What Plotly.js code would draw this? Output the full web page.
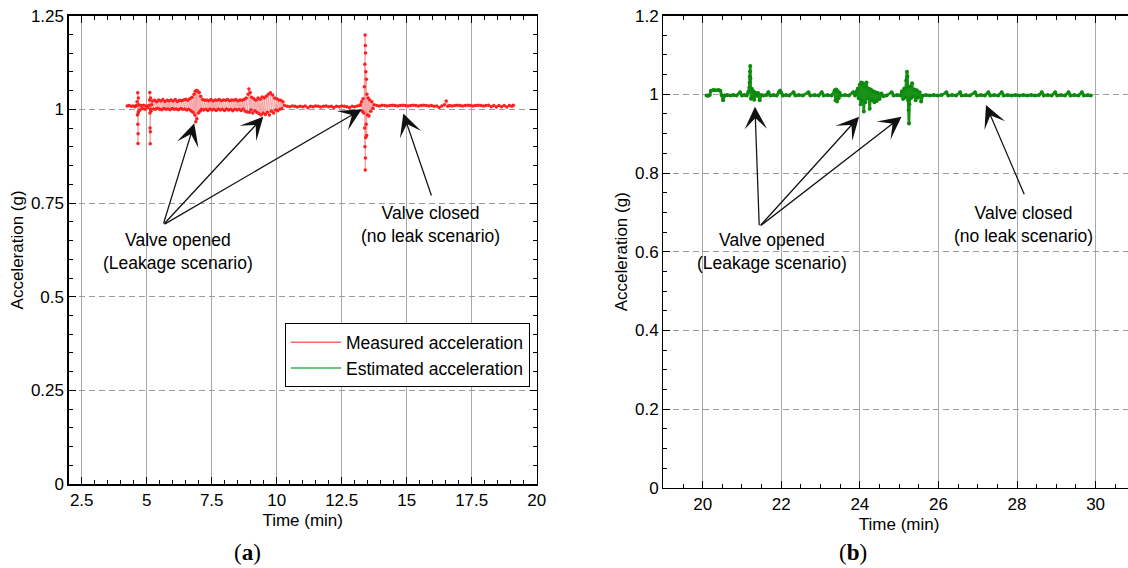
<!DOCTYPE html>
<html><head><meta charset="utf-8">
<script src="https://cdn.plot.ly/plotly-3.0.1.min.js"></script>
<style>html,body{margin:0;padding:0;overflow:hidden;background:#fff}#chart{width:1140px;height:568px}</style>
</head><body><div id="chart"></div>
<script>
// ---- data (time in min, acceleration in g) ----
const measured = [
[4.25,1.009],[4.32,1.010],[4.40,1.008],[4.48,1.009],[4.55,1.007],[4.60,1.010],
[4.63,1.020],[4.645,0.985],[4.655,1.044],[4.66,0.960],[4.665,0.909],[4.67,0.935],[4.675,0.990],[4.68,1.030],[4.69,0.995],[4.70,1.012],
[4.74,0.998],[4.78,1.010],[4.83,1.002],[4.88,1.011],[4.93,1.000],[4.98,1.009],[5.03,1.004],[5.08,1.010],
[5.11,1.025],[5.12,1.045],[5.125,0.990],[5.13,0.950],[5.135,0.908],[5.14,0.940],[5.145,1.000],[5.15,1.030],[5.16,0.995],[5.19,1.012],
[5.22,1.022],[5.26,1.001],[5.30,1.024],[5.34,1.000],[5.38,1.020],[5.42,1.003],[5.46,1.025],[5.50,1.000],[5.54,1.022],[5.58,0.999],
[5.62,1.026],[5.66,1.002],[5.70,1.021],[5.74,1.000],[5.78,1.024],[5.82,1.001],[5.86,1.023],[5.90,0.999],[5.94,1.025],[5.98,1.002],
[6.02,1.022],[6.06,1.000],[6.10,1.026],[6.14,1.001],[6.18,1.021],[6.22,0.999],[6.26,1.024],[6.30,1.002],[6.34,1.023],[6.38,1.000],
[6.42,1.025],[6.46,1.001],[6.50,1.027],[6.54,0.998],[6.58,1.024],[6.62,1.000],[6.66,1.028],[6.70,0.996],
[6.74,1.032],[6.78,0.992],[6.82,1.040],[6.85,0.985],[6.87,1.048],[6.89,0.967],[6.91,1.050],[6.93,0.975],[6.96,1.049],[6.99,0.990],
[7.02,1.045],[7.05,0.995],[7.08,1.035],[7.11,1.000],
[7.15,1.026],[7.19,0.998],[7.23,1.024],[7.27,1.000],[7.31,1.025],[7.35,0.997],[7.39,1.023],[7.43,1.001],[7.47,1.026],[7.51,0.998],
[7.55,1.022],[7.59,1.000],[7.63,1.025],[7.67,0.997],[7.71,1.024],[7.75,1.001],[7.79,1.026],[7.83,0.998],[7.87,1.023],[7.91,1.000],
[7.95,1.025],[7.99,0.997],[8.03,1.024],[8.07,1.001],[8.11,1.026],[8.15,0.998],[8.19,1.023],[8.23,1.000],[8.27,1.025],[8.31,0.996],
[8.35,1.024],[8.39,1.000],[8.43,1.026],[8.47,0.998],[8.51,1.022],[8.55,1.000],[8.59,1.025],[8.63,0.997],[8.67,1.024],[8.71,1.001],
[8.75,1.027],[8.79,0.995],[8.83,1.030],[8.87,0.993],
[8.90,1.040],[8.93,1.054],[8.95,0.992],[8.98,1.045],[9.01,0.998],[9.04,1.032],[9.08,0.990],[9.12,1.028],[9.16,0.996],[9.20,1.024],
[9.24,0.992],[9.28,1.030],[9.32,0.988],[9.36,1.027],[9.40,0.985],[9.44,1.033],[9.48,0.990],[9.52,1.030],[9.56,0.986],[9.60,1.035],
[9.64,0.992],[9.68,1.040],[9.72,0.985],[9.76,1.044],[9.80,0.995],[9.84,1.038],[9.88,0.990],[9.92,1.030],[9.96,0.998],[10.00,1.028],
[10.04,0.996],[10.08,1.025],[10.12,1.000],[10.16,1.024],[10.20,1.002],[10.24,1.020],
[10.30,1.010],[10.40,1.008],[10.50,1.007],[10.60,1.009],[10.70,1.008],[10.80,1.006],[10.90,1.008],[11.00,1.007],[11.10,1.009],[11.20,1.004],
[11.30,1.008],[11.40,1.007],[11.50,1.009],[11.60,1.008],[11.70,1.006],[11.80,1.008],[11.90,1.009],[12.00,1.007],[12.10,1.008],[12.20,1.005],
[12.30,1.008],[12.40,1.007],[12.50,1.009],[12.60,1.008],[12.70,1.007],[12.80,1.004],[12.90,1.008],[13.00,1.007],[13.10,1.009],[13.20,1.010],
[13.22,1.012],[13.26,1.020],[13.29,0.995],[13.32,1.028],[13.35,0.990],[13.37,1.060],[13.38,0.950],[13.39,1.120],[13.395,0.900],[13.40,1.198],
[13.405,0.838],[13.41,1.170],[13.415,0.870],[13.42,1.150],[13.425,0.925],[13.43,1.100],[13.44,0.960],[13.45,1.080],[13.46,0.930],[13.47,1.040],
[13.49,0.985],[13.52,1.030],[13.55,0.982],[13.58,1.025],[13.62,0.995],[13.66,1.020],[13.70,1.003],[13.75,1.012],
[13.85,1.010],[13.95,1.009],[14.05,1.011],[14.15,1.010],[14.25,1.009],[14.35,1.010],[14.45,1.011],[14.55,1.010],[14.65,1.009],[14.75,1.010],
[14.85,1.011],[14.95,1.010],[15.05,1.009],[15.15,1.010],[15.25,1.011],[15.35,1.010],[15.45,1.009],[15.55,1.010],[15.65,1.011],[15.75,1.010],
[15.85,1.009],[15.95,1.010],[16.05,1.008],[16.15,1.009],[16.25,1.005],[16.35,1.009],[16.45,1.012],[16.52,1.022],[16.58,1.008],[16.65,1.010],
[16.75,1.009],[16.85,1.010],[16.95,1.011],[17.05,1.010],[17.15,1.009],[17.25,1.010],[17.35,1.011],[17.45,1.010],[17.55,1.009],[17.65,1.010],
[17.75,1.011],[17.85,1.010],[17.95,1.009],[18.05,1.010],[18.15,1.011],[18.25,1.007],[18.35,1.010],[18.45,1.006],[18.55,1.010],[18.65,1.007],
[18.75,1.010],[18.85,1.006],[18.95,1.010],[19.05,1.008],[19.10,1.011]
];
const estimated = [
[20.10,0.997],[20.14,0.996],[20.18,0.998],[20.21,1.009],[20.27,1.011],[20.33,1.010],[20.40,1.011],[20.45,1.009],[20.48,0.998],[20.52,0.985],
[20.56,0.997],[20.62,0.998],[20.70,0.997],[20.78,0.998],[20.86,0.997],[20.95,1.005],[21.00,0.997],[21.06,0.998],[21.12,0.997],[21.16,1.006],
[21.19,1.018],[21.195,1.030],[21.20,1.045],[21.205,1.058],[21.21,1.072],[21.215,1.040],[21.22,1.012],[21.23,0.989],[21.25,1.014],[21.27,0.995],
[21.29,1.008],[21.31,0.986],[21.34,1.004],[21.37,0.996],[21.41,1.003],[21.45,0.985],[21.49,0.998],[21.55,0.997],[21.62,0.998],[21.67,1.005],
[21.72,0.997],[21.80,0.998],[21.88,0.997],[21.94,1.006],[21.97,1.009],[22.00,1.004],[22.04,0.997],[22.12,0.998],[22.20,0.997],[22.31,1.005],
[22.36,0.997],[22.45,0.998],[22.55,0.997],[22.69,1.005],[22.74,0.997],[22.85,0.998],[22.95,0.997],[23.03,1.005],[23.08,0.997],[23.18,0.998],
[23.28,0.997],[23.36,1.010],[23.38,0.985],[23.40,1.012],[23.42,0.982],[23.44,1.008],[23.46,0.990],[23.48,1.004],[23.52,0.997],[23.62,0.998],
[23.72,0.997],[23.83,1.005],[23.88,0.997],[23.92,1.008],[23.95,1.015],[23.97,0.990],[24.00,1.025],[24.02,0.975],[24.04,1.030],[24.06,0.985],
[24.08,1.028],[24.10,0.956],[24.12,1.020],[24.14,0.980],[24.17,1.030],[24.20,0.990],[24.22,1.015],[24.25,0.963],[24.28,1.012],[24.31,0.985],
[24.34,1.008],[24.37,0.980],[24.40,1.005],[24.43,0.983],[24.46,1.003],[24.50,0.988],[24.55,1.002],[24.60,0.995],[24.68,0.997],[24.81,1.005],
[24.86,0.997],[24.95,0.998],[25.03,0.997],[25.07,1.008],[25.10,0.988],[25.13,1.015],[25.16,0.992],[25.18,1.035],[25.20,1.057],[25.21,1.045],
[25.22,1.020],[25.23,0.985],[25.24,0.960],[25.25,0.926],[25.26,0.975],[25.28,1.020],[25.30,0.990],[25.33,1.028],[25.36,0.995],[25.39,1.012],
[25.42,0.985],[25.45,1.010],[25.48,0.992],[25.52,1.005],[25.56,0.982],[25.60,0.997],[25.68,0.998],[25.78,0.997],[25.88,0.998],[25.98,0.997],
[26.08,0.998],[26.20,1.005],[26.25,0.997],[26.35,0.998],[26.45,0.997],[26.55,1.005],[26.59,0.997],[26.70,0.998],[26.80,0.997],[26.93,1.005],
[26.98,0.997],[27.08,0.998],[27.18,0.997],[27.27,1.005],[27.32,0.997],[27.42,0.998],[27.52,0.997],[27.61,1.005],[27.66,0.997],[27.76,0.998],
[27.86,0.997],[27.96,0.998],[28.06,0.997],[28.16,0.998],[28.26,0.997],[28.36,0.998],[28.46,0.997],[28.56,0.998],[28.63,1.005],[28.68,0.997],
[28.78,0.998],[28.88,0.997],[28.97,1.005],[29.02,0.997],[29.12,0.998],[29.22,0.997],[29.31,1.005],[29.36,0.997],[29.46,0.998],[29.56,0.997],
[29.65,1.005],[29.70,0.997],[29.80,0.998],[29.88,0.997]
];
const leftTimeTicks = [2.5, 5, 7.5, 10, 12.5, 15, 17.5, 20];
const leftTimeLabels = ['2.5','5','7.5','10','12.5','15','17.5','20'];
const leftAccTicks = [0, 0.25, 0.5, 0.75, 1, 1.25];
const leftAccLabels = ['0','0.25','0.5','0.75','1','1.25'];
const rightTimeTicks = [20, 22, 24, 26, 28, 30];
const rightAccTicks = [0, 0.2, 0.4, 0.6, 0.8, 1, 1.2];
const rightAccLabels = ['0','0.2','0.4','0.6','0.8','1','1.2'];
const seriesNames = ['Measured acceleration', 'Estimated acceleration'];
const panelLabels = ['a', 'b'];

// ---- drawing ----
const W = 1140, H = 568;
const FONT = '"Liberation Sans", Arial, Helvetica, sans-serif';
const traces = [
  {x: measured.map(p=>p[0]), y: measured.map(p=>p[1]), xaxis:'x', yaxis:'y', type:'scatter', mode:'lines+markers',
   line:{color:'#f5a3a3', width:1}, marker:{color:'#ff1f1f', size:3.5}, showlegend:false, hoverinfo:'skip'},
  {x: estimated.map(p=>p[0]), y: estimated.map(p=>p[1]), xaxis:'x2', yaxis:'y2', type:'scatter', mode:'lines+markers',
   line:{color:'#1a921a', width:2.8}, marker:{color:'#0d8a0d', size:4}, showlegend:false, hoverinfo:'skip'},
  {x:[null], y:[null], xaxis:'x', yaxis:'y', type:'scatter', mode:'lines', name: seriesNames[0], line:{color:'#ff6666', width:1.5}},
  {x:[null], y:[null], xaxis:'x', yaxis:'y', type:'scatter', mode:'lines', name: seriesNames[1], line:{color:'#33b050', width:1.5}}
];

function xAxis(domain, range, tickvals, ticktext, titleText){
  return {domain, range, tickvals, ticktext, ticks:'inside', ticklen:7, tickwidth:1, tickcolor:'#000',
    showline:true, linecolor:'#000', linewidth:1.3, mirror:'ticks', zeroline:false,
    showgrid:true, gridcolor:'#a9a9a9', gridwidth:1,
    minor:{dtick:0.5, tick0:0, ticks:'inside', ticklen:4, tickcolor:'#000', showgrid:false},
    tickfont:{family:FONT, size:17, color:'#000'},
    title:{text:titleText, font:{family:FONT, size:17, color:'#000'}, standoff:5}, automargin:false, fixedrange:true};
}
function yAxis(domain, range, tickvals, ticktext, anchor){
  return {domain, range, tickvals, ticktext, anchor, ticks:'inside', ticklen:7, tickwidth:1, tickcolor:'#000',
    showline:true, linecolor:'#000', linewidth:1.3, mirror:'ticks', zeroline:false,
    showgrid:true, gridcolor:'#9c9c9c', gridwidth:1, griddash:'6px,4px',
    minor:{dtick:0.05, tick0:0, ticks:'inside', ticklen:4, tickcolor:'#000', showgrid:false},
    tickfont:{family:FONT, size:17, color:'#000'},
    title:{text:'Acceleration (g)', font:{family:FONT, size:17, color:'#000'}, standoff:3}, automargin:false, fixedrange:true};
}

const arrow = (xr, yr, x, y, ax, ay) => ({xref:xr, yref:yr, axref:xr, ayref:yr, x, y, ax, ay, text:'', showarrow:true,
  arrowhead:3, arrowsize:3, arrowwidth:1.25, arrowcolor:'#111', standoff:0, startstandoff:0});
const label = (xr, yr, x, y, text) => ({xref:xr, yref:yr, x, y, text, showarrow:false,
  font:{family:FONT, size:17.5, color:'#000'}, align:'center', xanchor:'center', yanchor:'middle'});

const layout = {
  width: W, height: H, margin:{l:0, r:0, t:0, b:0}, paper_bgcolor:'#fff', plot_bgcolor:'#fff',
  xaxis: xAxis([68.7/W, 536.7/W], [2, 20], leftTimeTicks, leftTimeLabels, 'Time (min)'),
  yaxis: yAxis([(H-484.2)/H, (H-15.6)/H], [0, 1.25], leftAccTicks, leftAccLabels, 'x'),
  xaxis2: Object.assign(xAxis([663.4/W, 1134.9/W], [19, 31], rightTimeTicks, rightTimeTicks.map(String), 'Time (min)'), {anchor:'y2'}),
  yaxis2: yAxis([(H-487.8)/H, (H-15.6)/H], [0, 1.2], rightAccTicks, rightAccLabels, 'x2'),
  showlegend:true,
  legend:{x:530/W, y:(H-323.3)/H, xanchor:'right', yanchor:'top', bgcolor:'#fff', bordercolor:'#000', borderwidth:1,
    font:{family:FONT, size:17.5, color:'#000'}, tracegroupgap:0, itemwidth:50},
  annotations:[
    arrow('x','y', 6.83, 0.9627, 5.63, 0.6914),
    arrow('x','y', 9.485, 0.980, 5.63, 0.6914),
    arrow('x','y', 13.27, 1.0, 5.63, 0.6914),
    arrow('x','y', 14.87, 0.989, 15.97, 0.766),
    label('x','y', 6.21, 0.622, 'Valve opened<br>(Leakage scenario)'),
    label('x','y', 15.9, 0.694, 'Valve closed<br>(no leak scenario)'),
    arrow('x2','y2', 21.33, 0.9685, 21.44, 0.6635),
    arrow('x2','y2', 23.98, 0.943, 21.44, 0.6635),
    arrow('x2','y2', 25.06, 0.943, 21.44, 0.6635),
    arrow('x2','y2', 27.21, 0.973, 28.2, 0.742),
    label('x2','y2', 21.76, 0.600, 'Valve opened<br>(Leakage scenario)'),
    label('x2','y2', 28.17, 0.668, 'Valve closed<br>(no leak scenario)'),
    {xref:'paper', yref:'paper', x:247/W, y:(H-552)/H, text:'(<b>'+panelLabels[0]+'</b>)', showarrow:false,
     font:{family:'"Liberation Serif", "DejaVu Serif", serif', size:23, color:'#000'}, xanchor:'center', yanchor:'middle'},
    {xref:'paper', yref:'paper', x:853/W, y:(H-552)/H, text:'(<b>'+panelLabels[1]+'</b>)', showarrow:false,
     font:{family:'"Liberation Serif", "DejaVu Serif", serif', size:23, color:'#000'}, xanchor:'center', yanchor:'middle'}
  ]
};
Plotly.newPlot('chart', traces, layout, {staticPlot:true, displayModeBar:false});
</script>
</body></html>
